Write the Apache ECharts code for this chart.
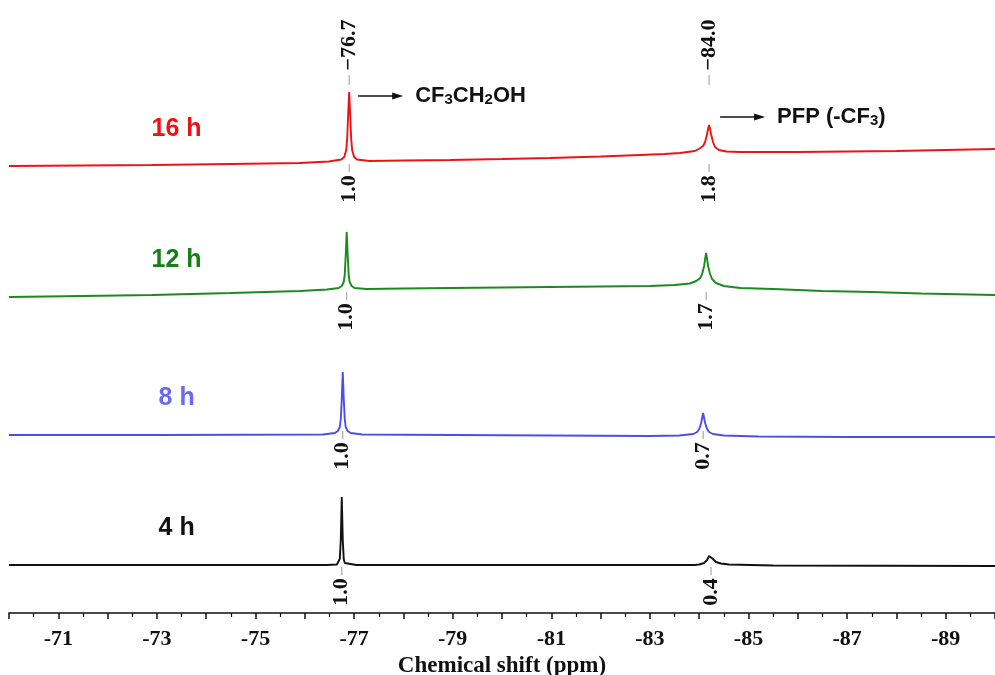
<!DOCTYPE html>
<html>
<head>
<meta charset="utf-8">
<script src="https://cdn.jsdelivr.net/npm/echarts@6/dist/echarts.min.js"></script>
<style>html,body{margin:0;background:#fff}#main{width:995px;height:675px}</style>
</head>
<body>
<div id="main"></div>
<script>
// 各条谱线的标签、颜色和垂直偏移
var traceNames = ['16 h', '12 h', '8 h', '4 h'];
var lineColors = ['#ee1313', '#1c8a1c', '#4d4de8', '#111111'];
var nameColors = ['#ee1111', '#177f17', '#6a6af0', '#111111'];
var offsets = [447, 316, 178, 48];

// 谱线数据 [化学位移 ppm, 相对强度]
var spec16 = [[-70.0,0],[-71.5,0.5],[-72.9,1],[-74.5,2],[-75.9,3],[-76.49,4.5],[-76.74,6.5],[-76.80,9],[-76.84,16],[-76.86,28],[-76.88,52],[-76.90,74],[-76.92,52],[-76.94,28],[-76.96,16],[-77.00,9],[-77.06,6.5],[-77.31,5],[-78.0,5.5],[-78.95,6],[-80.0,7],[-80.97,8],[-82.0,9.5],[-82.8,11],[-83.3,12],[-83.61,13],[-83.91,15],[-83.99,17],[-84.08,20],[-84.12,24],[-84.16,32],[-84.18,37],[-84.20,41],[-84.22,37],[-84.24,32],[-84.28,24],[-84.32,19],[-84.40,16],[-84.55,14.5],[-84.83,14],[-86.0,14],[-88.0,15],[-89.0,16],[-90.0,17]];
var spec12 = [[-70.0,0],[-71.5,1],[-72.9,2],[-74.5,4],[-75.9,6],[-76.45,7.5],[-76.69,9],[-76.75,11],[-76.79,15],[-76.81,22],[-76.83,42],[-76.85,65],[-76.87,42],[-76.89,22],[-76.91,15],[-76.95,11],[-77.01,9],[-77.25,8],[-78.0,8.5],[-78.95,9],[-80.0,9.5],[-80.97,10],[-82.0,10.5],[-83.0,11],[-83.5,12],[-83.81,13.5],[-83.94,16],[-84.02,19],[-84.06,23],[-84.10,31],[-84.12,38],[-84.14,44],[-84.16,38],[-84.18,31],[-84.22,23],[-84.26,18],[-84.34,14],[-84.5,11],[-84.83,9],[-85.5,8],[-86.5,6],[-87.5,5],[-88.5,3.5],[-90.0,2]];
var spec8 = [[-70.0,0],[-73.0,0],[-76.37,0.5],[-76.61,2],[-76.67,4],[-76.71,8],[-76.73,16],[-76.75,36],[-76.77,63],[-76.79,36],[-76.81,16],[-76.83,8],[-76.87,4],[-76.93,2],[-77.17,0.5],[-79.0,0],[-81.0,-0.5],[-83.0,-1],[-83.6,-0.5],[-83.88,1],[-83.96,3],[-84.00,6],[-84.04,12],[-84.06,17],[-84.08,22],[-84.10,17],[-84.12,12],[-84.16,6],[-84.20,3],[-84.28,1],[-84.5,-0.5],[-85.2,-1.5],[-87.0,-2],[-90.0,-2]];
var spec4 = [[-70.0,0],[-73.0,0],[-76.45,0],[-76.65,0.5],[-76.69,2],[-76.71,6],[-76.73,25],[-76.75,68],[-76.77,25],[-76.79,6],[-76.81,2],[-76.85,0.5],[-77.05,0],[-80.0,0],[-83.0,0],[-83.9,0],[-84.0,0.5],[-84.10,2],[-84.16,5],[-84.20,9],[-84.22,10],[-84.24,9],[-84.28,6],[-84.34,3],[-84.44,1.5],[-84.6,0.5],[-85.5,-0.5],[-90.0,-1]];
var spectra = [spec16, spec12, spec8, spec4];

// 峰位置与积分值
var peakPos = [[-76.90, -84.20], [-76.85, -84.14], [-76.77, -84.08], [-76.75, -84.24]];
var integrals = [['1.0', '1.8'], ['1.0', '1.7'], ['1.0', '0.7'], ['1.0', '0.4']];
var shiftLabels = ['\u221276.7', '\u221284.0'];

var intDrop = [23, 20, 21, 27];

var chart = echarts.init(document.getElementById('main'));

var series = spectra.map(function (s, i) {
    return {
        name: traceNames[i],
        type: 'line',
        showSymbol: false,
        symbol: 'none',
        lineStyle: { color: lineColors[i], width: 1.9 },
        data: s.map(function (p) { return [p[0], p[1] + offsets[i]]; })
    };
});

var option = {
    animation: false,
    grid: { left: 9, right: 0, top: 0, bottom: 62, outerBoundsMode: 'none', containLabel: false },
    xAxis: {
        type: 'value',
        min: -90,
        max: -70,
        interval: 1,
        inverse: true,
        name: 'Chemical shift (ppm)',
        nameLocation: 'middle',
        nameGap: 35,
        nameTextStyle: { fontFamily: 'Liberation Serif', fontWeight: 'bold', fontSize: 23, color: '#111' },
        axisLine: { lineStyle: { color: '#111', width: 1.6 } },
        axisTick: { length: 6, lineStyle: { color: '#111', width: 1.5 } },
        minorTick: { show: true, splitNumber: 2, length: 4, lineStyle: { color: '#111', width: 1.2 } },
        splitLine: { show: false },
        axisLabel: {
            margin: 15,
            fontFamily: 'Liberation Serif',
            fontWeight: 'bold',
            fontSize: 22,
            color: '#111',
            formatter: function (v) {
                var r = Math.round(v);
                return Math.abs(r) % 2 === 1 ? String(r) : '';
            }
        }
    },
    yAxis: { type: 'value', min: 0, max: 613, show: false, splitLine: { show: false } },
    series: series
};
chart.setOption(option);

function px(x, y) { return chart.convertToPixel({ gridIndex: 0 }, [x, y]); }

var serifFont = 'bold 22px "Liberation Serif"';
var sansFont = 'bold 25px "Liberation Sans"';
var g = [];

function rotText(text, p) {
    g.push({
        type: 'text', x: p[0], y: p[1], rotation: Math.PI / 2,
        style: { text: text, font: serifFont, fill: '#111', textAlign: 'center', textVerticalAlign: 'middle', align: 'center', verticalAlign: 'middle' }
    });
}
function tick(x, y1, y2) {
    g.push({ type: 'line', shape: { x1: x, y1: y1, x2: x, y2: y2 }, style: { stroke: '#999', lineWidth: 1 } });
}
function arrow(x1, x2, y) {
    g.push({ type: 'line', shape: { x1: x1, y1: y, x2: x2 - 8, y2: y }, style: { stroke: '#111', lineWidth: 1.5 } });
    g.push({ type: 'polygon', shape: { points: [[x2, y], [x2 - 11, y - 3.5], [x2 - 11, y + 3.5]] }, style: { fill: '#111' } });
}

traceNames.forEach(function (n, i) {
    var p = px(-73.4, offsets[i] + 37);
    g.push({
        type: 'text', x: p[0], y: p[1],
        style: { text: n, font: sansFont, fill: nameColors[i], textAlign: 'center', textVerticalAlign: 'middle', align: 'center', verticalAlign: 'middle' }
    });
    peakPos[i].forEach(function (pp, j) {
        var q = px(pp, offsets[i] - intDrop[i]);
        rotText(integrals[i][j], q);
        tick(q[0], q[1] - 25, q[1] - 17);
    });
});

// 顶部化学位移标注
peakPos[0].forEach(function (pp, j) {
    var q = px(pp, 613 - 45);
    rotText(shiftLabels[j], q);
    tick(q[0], q[1] + 30, q[1] + 40);
});

// 箭头及归属
var a1 = px(peakPos[0][0], 613 - 96);
arrow(a1[0] + 9, a1[0] + 54, a1[1]);
g.push({
    type: 'text', x: a1[0] + 66, y: a1[1],
    style: {
        text: '{a|CF}{b|3}{a|CH}{b|2}{a|OH}', textVerticalAlign: 'middle', verticalAlign: 'middle',
        rich: {
            a: { font: 'bold 22px "Liberation Sans"', fill: '#111' },
            b: { font: 'bold 15px "Liberation Sans"', fill: '#111', verticalAlign: 'bottom' }
        }
    }
});
var a2 = px(peakPos[0][1], 613 - 117);
arrow(a2[0] + 11, a2[0] + 56, a2[1]);
g.push({
    type: 'text', x: a2[0] + 68, y: a2[1],
    style: {
        text: '{a|PFP (-CF}{b|3}{a|)}', textVerticalAlign: 'middle', verticalAlign: 'middle',
        rich: {
            a: { font: 'bold 22px "Liberation Sans"', fill: '#111' },
            b: { font: 'bold 15px "Liberation Sans"', fill: '#111', verticalAlign: 'bottom' }
        }
    }
});

chart.setOption({ graphic: g });
</script>
</body>
</html>
